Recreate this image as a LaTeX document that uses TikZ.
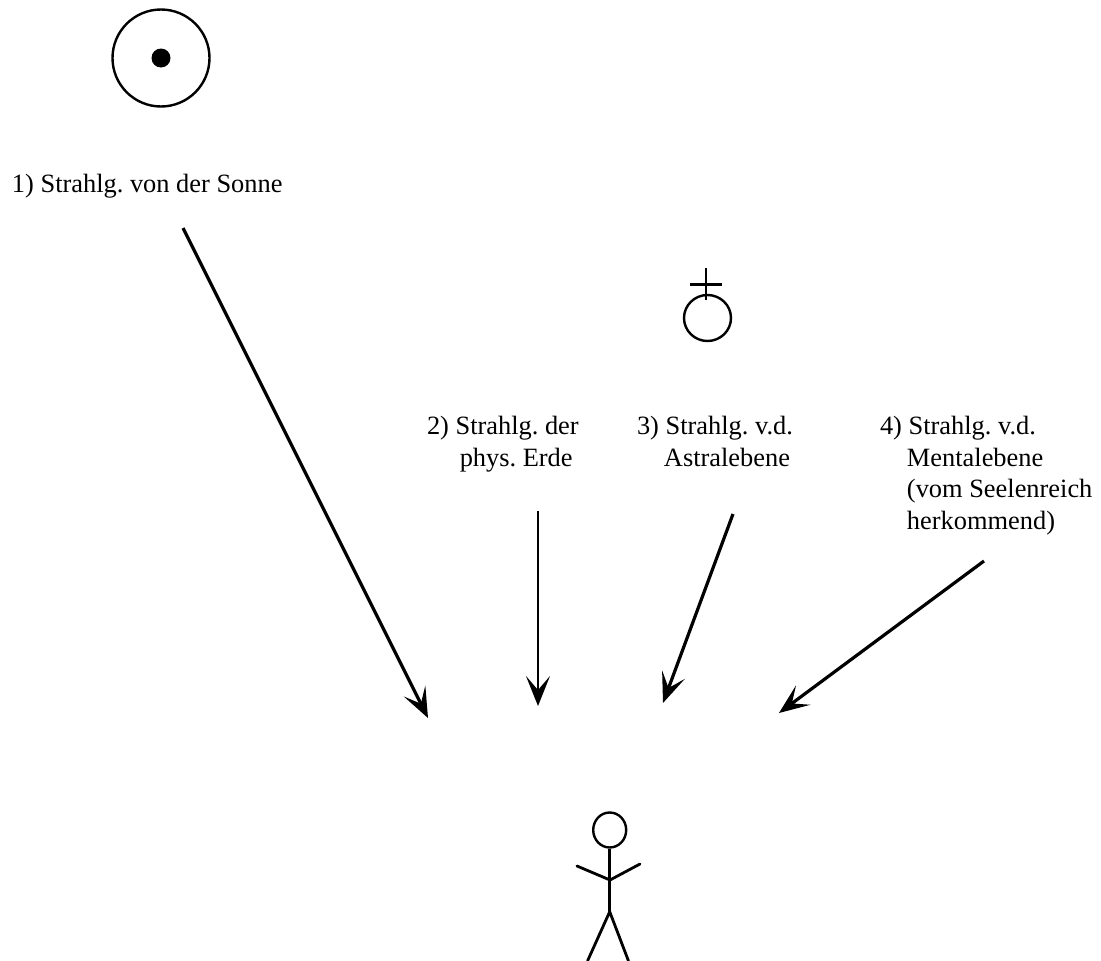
\documentclass[tikz,border=0pt]{standalone}
\usepackage{fontspec}
\setmainfont{Liberation Serif}
\usetikzlibrary{arrows.meta,shapes.geometric}
\tikzset{
  ink/.style={line width=2.8pt,line cap=round,draw=black},
  ray/.style={line width=3.2pt,line cap=butt,draw=black,-{Stealth[length=30pt,width=24pt,inset=14pt]}},
  thinray/.style={ray,line width=2.7pt},
  lab/.style={anchor=north west,inner sep=0pt,outer sep=0pt,align=left,font=\fontsize{20.95}{25.15}\selectfont\frenchspacing,scale=1.26}
}
\begin{document}
\begin{tikzpicture}[x=1pt,y=-1pt]
\useasboundingbox (0,0) rectangle (1101,961);
% sun
\node[circle,draw=black,line width=2.4pt,minimum size=97pt,inner sep=0pt] (sun) at (161,58) {};
\node[circle,fill=black,minimum size=19pt,inner sep=0pt] (sundot) at (161,58) {};
% earth symbol
\node[ellipse,draw=black,line width=2.4pt,minimum width=47pt,minimum height=46pt,inner sep=0pt] (earth) at (707.5,318) {};
\draw[ink,line width=2.2pt,line cap=butt] (706,268) -- (706,300);
\draw[ink,line width=2.2pt,line cap=butt] (690,284.5) -- (722,284.5);
% labels
\node[lab] (l1) at (12,174) {1) Strahlg. von der Sonne};
\node[lab] (l2) at (427,416) {2) Strahlg. der\\\hspace*{26pt}phys. Erde};
\node[lab] (l3) at (637,416) {3) Strahlg. v.d.\\\hspace*{21.4pt}Astralebene};
\node[lab] (l4) at (880,416) {4) Strahlg. v.d.\\\hspace*{21.4pt}Mentalebene\\\hspace*{21.4pt}(vom Seelenreich\\\hspace*{21.4pt}herkommend)};
% ray ends
\coordinate (a1) at (183,228); \coordinate (b1) at (428,718);
\coordinate (a2) at (538,511); \coordinate (b2) at (538,706);
\coordinate (a3) at (733,514); \coordinate (b3) at (663,703);
\coordinate (a4) at (984,561); \coordinate (b4) at (779,713);
\draw[ray] (a1) -- (b1);
\draw[thinray] (a2) -- (b2);
\draw[ray] (a3) -- (b3);
\draw[ray] (a4) -- (b4);
% figure
\node[ellipse,draw=black,line width=2.4pt,minimum width=33pt,minimum height=35pt,inner sep=0pt] (head) at (609.7,830) {};
\coordinate (hip) at (609.7,911.7);
\coordinate (shoulder) at (610,880);
\draw[ink,line cap=butt] (head.south) -- (hip);
\draw[ink] (577,866) -- (shoulder) -- (640,864);
\draw[ink,line cap=butt,line join=round] (587.5,961) -- (hip) -- (628.5,961);
\end{tikzpicture}
\end{document}
